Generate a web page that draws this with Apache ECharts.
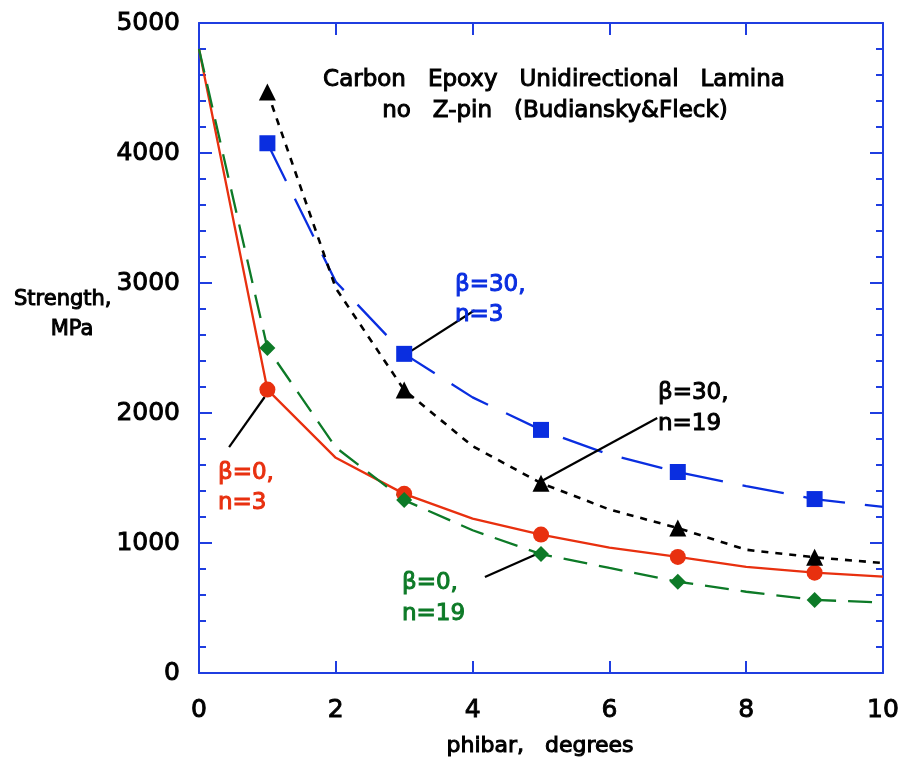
<!DOCTYPE html>
<html>
<head>
<meta charset="utf-8">
<script src="https://cdn.jsdelivr.net/npm/echarts@6/dist/echarts.min.js"></script>
<style>
html,body{margin:0;padding:0;background:#fff;}
#c{width:904px;height:764px;}
</style>
</head>
<body>
<div id="c"></div>
<script>
// ---- data ----
const xs = [0, 1, 2, 3, 4, 5, 6, 7, 8, 9, 10];
const markerXs = [1, 3, 5, 7, 9];
const redB0n3 = [4800, 2180, 1655, 1378, 1188, 1065, 965, 893, 817, 772, 742];
const greenB0n19 = [4800, 2500, 1735, 1330, 1098, 915, 808, 702, 625, 562, 542];
const blueB30n3 = [null, 4075, 3010, 2455, 2120, 1870, 1680, 1546, 1438, 1338, 1278];
const blackB30n19 = [null, 4470, 2960, 2177, 1745, 1460, 1258, 1115, 948, 890, 846];
const xTicks = [0, 2, 4, 6, 8, 10];
const yTicks = [0, 1000, 2000, 3000, 4000, 5000];
// leader lines (data units)
const leaderBlue = [[4.03, 2790], [3.08, 2470]];
const leaderBlack = [[6.70, 1962], [4.97, 1465]];
const leaderRed = [[0.44, 1738], [0.96, 2123]];
const leaderGreen = [[4.18, 738], [4.94, 915]];

const AXIS = '#1f3de0';
const RED = '#e8300f';
const GREEN = '#0d7a27';
const BLUE = '#0a2ee0';
const FONT = '"DejaVu Sans", sans-serif';

function pairs(vals) { return xs.map((x, i) => [x, vals[i]]).filter(p => p[1] != null); }
function marks(vals) { return pairs(vals).filter(p => markerXs.includes(p[0])); }

const axisLine = { show: true, onZero: false, lineStyle: { color: AXIS, width: 2 } };

const chart = echarts.init(document.getElementById('c'), null, { renderer: 'canvas' });

function txt(text, x, y, color, align, size) {
  return {
    type: 'text', x: x, y: y, z: 100,
    style: { text: text, fill: color, font: (size || 23) + 'px ' + FONT, align: align || 'left', verticalAlign: 'middle',
             stroke: color, lineWidth: 1.0 }
  };
}

const tickLabel = { color: '#000', fontSize: 25, fontFamily: FONT, textBorderColor: '#000', textBorderWidth: 0.9,
                    formatter: v => String(v) };

chart.setOption({
  animation: false,
  backgroundColor: '#fff',
  grid: { left: 199, right: 21, top: 23, bottom: 91 },
  xAxis: [
    { type: 'value', min: xTicks[0], max: xTicks[xTicks.length - 1], interval: 2, position: 'bottom',
      axisLine: axisLine,
      axisTick: { show: true, inside: true, length: 12, lineStyle: { color: AXIS, width: 2 } },
      axisLabel: Object.assign({ margin: 25 }, tickLabel),
      splitLine: { show: false } },
    { type: 'value', min: 0, max: 10, interval: 2, position: 'top',
      axisLine: axisLine,
      axisTick: { show: true, inside: true, length: 12, lineStyle: { color: AXIS, width: 2 } },
      axisLabel: { show: false }, splitLine: { show: false } }
  ],
  yAxis: [
    { type: 'value', min: yTicks[0], max: yTicks[yTicks.length - 1], interval: 1000, position: 'left',
      axisLine: axisLine,
      axisTick: { show: true, inside: true, length: 13, lineStyle: { color: AXIS, width: 2 } },
      minorTick: { show: true, splitNumber: 5, length: 7, lineStyle: { color: AXIS, width: 2 } },
      axisLabel: Object.assign({ margin: 19 }, tickLabel),
      splitLine: { show: false }, minorSplitLine: { show: false } },
    { type: 'value', min: 0, max: 5000, interval: 1000, position: 'right',
      axisLine: axisLine,
      axisTick: { show: true, inside: true, length: 13, lineStyle: { color: AXIS, width: 2 } },
      minorTick: { show: true, splitNumber: 5, length: 7, lineStyle: { color: AXIS, width: 2 } },
      axisLabel: { show: false }, splitLine: { show: false }, minorSplitLine: { show: false } }
  ],
  series: [
    { name: 'b0n3', type: 'line', data: pairs(redB0n3), symbol: 'none', z: 3,
      lineStyle: { color: RED, width: 2.3 } },
    { name: 'b0n19', type: 'line', data: pairs(greenB0n19), symbol: 'none', z: 3,
      lineStyle: { color: GREEN, width: 2.3, type: [24, 12] } },
    { name: 'b30n3', type: 'line', data: pairs(blueB30n3), symbol: 'none', z: 3,
      lineStyle: { color: BLUE, width: 2.3, type: [42, 20] } },
    { name: 'b30n19', type: 'line', data: pairs(blackB30n19), symbol: 'none', z: 3,
      lineStyle: { color: '#000', width: 2.6, type: [7, 7] } },
    { type: 'scatter', data: marks(redB0n3), symbol: 'circle', symbolSize: 16, z: 5,
      itemStyle: { color: RED, opacity: 1 } },
    { type: 'scatter', data: marks(greenB0n19), symbol: 'diamond', symbolSize: 16, z: 5,
      itemStyle: { color: GREEN, opacity: 1 } },
    { type: 'scatter', data: marks(blueB30n3), symbol: 'rect', symbolSize: 16, z: 5,
      itemStyle: { color: BLUE, opacity: 1 } },
    { type: 'scatter', data: marks(blackB30n19), symbol: 'triangle', symbolSize: 17, z: 5,
      itemStyle: { color: '#000', opacity: 1 } },
    { type: 'lines', coordinateSystem: 'cartesian2d', z: 4,
      lineStyle: { color: '#000', width: 2.2, opacity: 1 },
      data: [ { coords: leaderBlue }, { coords: leaderBlack }, { coords: leaderRed }, { coords: leaderGreen } ] }
  ],
  graphic: [
    txt('Carbon   Epoxy   Unidirectional   Lamina', 554, 80, '#000', 'center'),
    txt('no   Z-pin   (Budiansky&Fleck)', 555, 111, '#000', 'center'),
    txt('β=30,', 455, 285, BLUE),
    txt('n=3', 455, 315, BLUE),
    txt('β=30,', 658, 393, '#000'),
    txt('n=19', 658, 424, '#000'),
    txt('β=0,', 218, 473, RED),
    txt('n=3', 218, 503, RED),
    txt('β=0,', 402, 583, GREEN),
    txt('n=19', 402, 614, GREEN),
    txt('Strength,', 14, 300, '#000', 'left', 21),
    txt('MPa', 72, 330, '#000', 'center', 21),
    txt('phibar,   degrees', 540, 746, '#000', 'center', 22)
  ]
});
</script>
</body>
</html>
